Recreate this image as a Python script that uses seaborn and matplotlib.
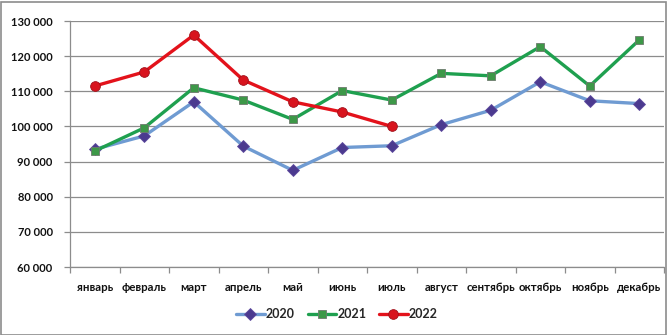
import matplotlib
matplotlib.use("Agg")
import matplotlib.pyplot as plt
from matplotlib.ticker import FuncFormatter
from matplotlib.lines import Line2D
from matplotlib.patches import Rectangle
import seaborn as sns
import pandas as pd

months = ["январь", "февраль", "март", "апрель", "май", "июнь", "июль",
          "август", "сентябрь", "октябрь", "ноябрь", "декабрь"]
values_2020 = [93500, 97300, 107000, 94400, 87500, 94000, 94500,
               100500, 104600, 112700, 107300, 106500]
values_2021 = [93000, 99600, 111000, 107500, 102000, 110200, 107500,
               115100, 114400, 122700, 111500, 124600]
values_2022 = [111500, 115500, 126000, 113200, 107000, 104100, 100000]
y_ticks = [60000, 70000, 80000, 90000, 100000, 110000, 120000, 130000]

sns.set_theme(style="white")
plt.rcParams["font.family"] = ["Lato", "DejaVu Sans"]

fig = plt.figure(figsize=(6.67, 3.35), dpi=100)
ax = fig.add_axes([70 / 667, 1 - 267 / 335, 594 / 667, 246 / 335])

series = [
    ("2020", values_2020, "#6F9BD2", "D", "#4B3A8F", "#5E4A9E", 6),
    ("2021", values_2021, "#1FA04F", "s", "#3D9848", "#6E7A6E", 6),
    ("2022", values_2022, "#E3121B", "o", "#D8141E", "#A0101A", 7),
]

handles = []
for name, vals, color, marker, mface, medge, msize in series:
    df = pd.DataFrame({"month": months[:len(vals)], "value": vals})
    sns.lineplot(data=df, x="month", y="value", ax=ax, sort=False,
                 color=color, linewidth=2.4, marker=marker,
                 markersize=msize, markerfacecolor=mface,
                 markeredgecolor=medge, markeredgewidth=0.6)
    handles.append(Line2D([], [], color=color, linewidth=2.4, marker=marker,
                          markersize=msize, markerfacecolor=mface,
                          markeredgecolor=medge, markeredgewidth=0.6,
                          label=name))

ax.set_xlim(-0.5, len(months) - 0.5)
ax.set_ylim(60000, 130000)
ax.set_yticks(y_ticks)
ax.yaxis.set_major_formatter(FuncFormatter(lambda v, p: f"{int(v):,}".replace(",", " ")))
ax.set_xticks(range(len(months)))
ax.set_xticklabels(months)
ax.set_xlabel("")
ax.set_ylabel("")

ax.grid(axis="y", color="#8C8C8C", linewidth=0.9)
ax.set_axisbelow(True)
for side in ["top", "right"]:
    ax.spines[side].set_visible(False)
ax.spines["left"].set_color("#8C8C8C")
ax.spines["bottom"].set_color("#8C8C8C")
ax.spines["left"].set_linewidth(0.9)
ax.spines["bottom"].set_linewidth(0.9)

ax.tick_params(axis="y", left=True, length=4.5, color="#8C8C8C", width=0.9,
               labelsize=8, pad=8)
ax.tick_params(axis="x", bottom=False, labelsize=8.2, pad=5)
for lbl in ax.get_xticklabels() + ax.get_yticklabels():
    lbl.set_fontweight("bold")
    lbl.set_color("#111111")

# category boundary ticks on the x axis
ax.set_xticks([i - 0.5 for i in range(len(months) + 1)], minor=True)
ax.tick_params(axis="x", which="minor", bottom=True, length=4,
               color="#8C8C8C", width=0.9)

fig.legend(handles=handles, loc="center", bbox_to_anchor=(337 / 667, 1 - 314 / 335),
           ncol=3, frameon=False, prop={"size": 9, "weight": "bold"},
           handlelength=2.3, columnspacing=1.0, handletextpad=0.1)

fig.patches.append(Rectangle((0.5 / 667, 0.5 / 335), 665 / 667, 333 / 335,
                             transform=fig.transFigure, fill=False,
                             edgecolor="#8C8C8C", linewidth=1.2))

fig.savefig("out.png", dpi=100, facecolor="white")
